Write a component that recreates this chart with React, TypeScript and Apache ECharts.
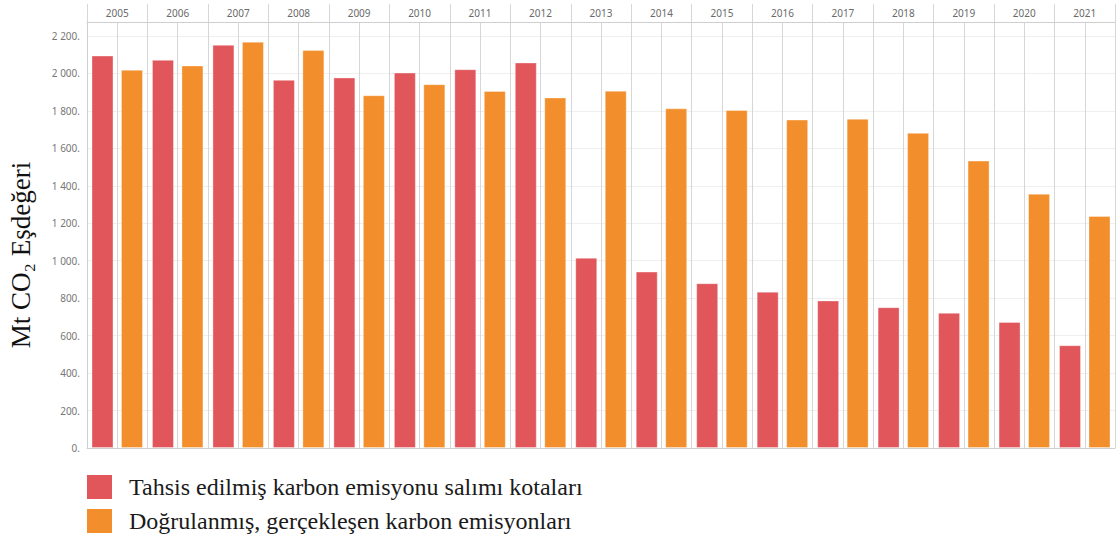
import React, { useEffect, useRef } from 'react';
import * as echarts from 'echarts';

const years = ['2005', '2006', '2007', '2008', '2009', '2010', '2011', '2012', '2013', '2014', '2015', '2016', '2017', '2018', '2019', '2020', '2021'];
const allocated = [2096, 2073, 2153, 1966, 1979, 2005, 2023, 2059, 1016, 942, 880, 835, 788, 752, 722, 673, 549];
const verified = [2020, 2043, 2170, 2125, 1884, 1943, 1907, 1872, 1908, 1814, 1805, 1754, 1758, 1683, 1535, 1358, 1239];
const seriesNames = ['Tahsis edilmiş karbon emisyonu salımı kotaları', 'Doğrulanmış, gerçekleşen karbon emisyonları'];
const seriesColors = ['#E0565B', '#F28E2B'];
const yTitle = 'Mt CO₂ Eşdeğeri';
const yMin = 0;
const yMax = 2275;
const yStep = 200;
const subColumns = years.flatMap((y) => [y + 'a', y + 'b']);

function fmt(v: number): string {
  if (v % yStep !== 0) return '';
  const s = String(v);
  const withSep = s.length > 3 ? s.slice(0, s.length - 3) + ' ' + s.slice(s.length - 3) : s;
  return withSep + '.';
}

export default function App() {
  const ref = useRef<HTMLDivElement>(null);
  useEffect(() => {
    document.body.style.margin = '0';
    const chart = echarts.init(ref.current!, undefined, { renderer: 'svg' });
    const gridColor = '#d6d6d6';
    chart.setOption({
      animation: false,
      backgroundColor: '#ffffff',
      grid: { left: 87, right: 5, top: 22, bottom: 88, containLabel: false },
      xAxis: [
        {
          type: 'category',
          data: years,
          position: 'bottom',
          axisLine: { show: true, lineStyle: { color: '#cfcfcf', width: 1 } },
          axisTick: { show: false },
          axisLabel: { show: false },
          splitLine: { show: false },
        },
        {
          type: 'category',
          data: years,
          position: 'top',
          axisLine: { show: true, lineStyle: { color: '#cfcfcf', width: 1 } },
          axisTick: { show: true, length: 18, interval: 0, lineStyle: { color: gridColor } },
          axisLabel: { show: true, interval: 0, margin: 4, fontSize: 10, color: '#6a6a6a', fontFamily: 'Noto Sans' },
          splitLine: { show: true, interval: 0, lineStyle: { color: gridColor, width: 1 } },
        },
        {
          type: 'category',
          data: subColumns,
          position: 'bottom',
          axisLine: { show: false },
          axisTick: { show: false },
          axisLabel: { show: false },
          splitLine: { show: true, interval: 0, lineStyle: { color: gridColor, width: 1 } },
        },
      ],
      yAxis: {
        type: 'value',
        min: yMin,
        max: yMax,
        interval: yStep,
        axisLine: { show: true, lineStyle: { color: '#cfcfcf' } },
        axisTick: { show: false },
        axisLabel: { formatter: fmt, fontSize: 10, color: '#777', margin: 7, fontFamily: 'Noto Sans' },
        splitLine: { show: true, lineStyle: { color: '#efefef', width: 1 } },
      },
      legend: {
        orient: 'vertical',
        left: 87,
        top: 475,
        padding: 0,
        itemWidth: 25,
        itemHeight: 24,
        itemGap: 10,
        icon: 'rect',
        itemStyle: { borderWidth: 0 },
        textStyle: { fontFamily: 'Liberation Serif', fontSize: 24, color: '#1a1a1a', padding: [0, 0, 0, 12] },
        data: seriesNames,
      },
      graphic: [
        {
          type: 'text',
          x: 21,
          y: 255,
          rotation: Math.PI / 2,
          style: {
            text: yTitle,
            fontFamily: 'Liberation Serif',
            fontSize: 27,
            fill: '#111',
            align: 'center',
            verticalAlign: 'middle',
            textAlign: 'center',
            textVerticalAlign: 'middle',
          },
        },
      ],
      series: [
        {
          name: seriesNames[0],
          type: 'bar',
          xAxisIndex: 0,
          data: allocated,
          barWidth: 22,
          barGap: '34%',
          itemStyle: { color: seriesColors[0], borderColor: 'rgba(255,255,255,0.35)', borderWidth: 1 },
        },
        {
          name: seriesNames[1],
          type: 'bar',
          xAxisIndex: 0,
          data: verified,
          barWidth: 22,
          barGap: '34%',
          itemStyle: { color: seriesColors[1], borderColor: 'rgba(255,255,255,0.35)', borderWidth: 1 },
        },
      ],
    });
    return () => chart.dispose();
  }, []);
  return <div ref={ref} style={{ width: 1120, height: 536 }} />;
}
